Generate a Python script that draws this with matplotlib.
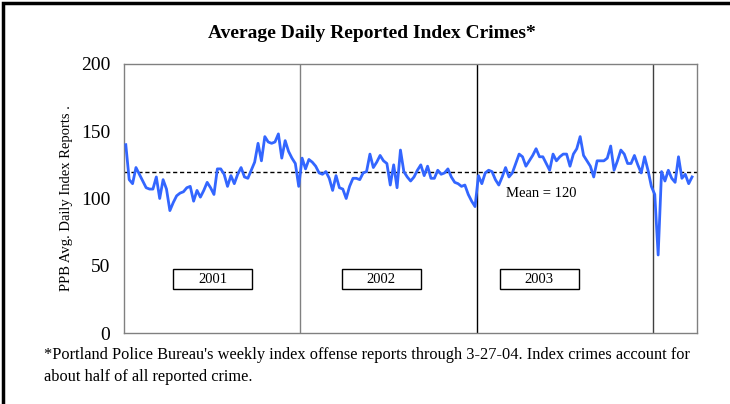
import numpy as np
import matplotlib
matplotlib.use("Agg")
import matplotlib.pyplot as plt
from matplotlib.patches import Rectangle

# weekly average daily index crimes
crimes_2001 = [140, 114, 111, 123, 118, 113, 108, 107, 107, 116, 100, 114, 107,
               91, 97, 102, 104, 105, 108, 109, 98, 106, 101, 106, 112, 108,
               103, 122, 122, 118, 109, 117, 111, 118, 123, 116, 115, 121, 127,
               141, 128, 146, 142, 141, 142, 148, 130, 143, 135, 130, 126, 109]
crimes_2002 = [130, 122, 129, 127, 124, 119, 118, 120, 115, 106, 117, 108, 107,
               100, 109, 115, 115, 114, 119, 120, 133, 123, 127, 132, 128, 126,
               110, 125, 108, 136, 120, 116, 113, 116, 121, 125, 117, 124, 115,
               115, 121, 118, 119, 122, 116, 112, 111, 109, 110, 103, 98, 94]
crimes_2003 = [117, 111, 119, 121, 120, 114, 110, 116, 123, 116, 119, 126, 133,
               131, 124, 128, 132, 137, 131, 131, 126, 121, 133, 128, 131, 133,
               133, 124, 133, 137, 146, 132, 128, 124, 116, 128, 128, 128, 130,
               139, 121, 128, 136, 133, 126, 126, 132, 125, 119, 131, 121, 109]
crimes_2004 = [103, 58, 120, 113, 121, 115, 112, 131, 115, 118, 111, 116]

year_labels = ["2001", "2002", "2003"]
year_breaks = [51.5, 103.5, 155.5]
mean_value = 120
y_ticks = [0, 50, 100, 150, 200]

values = crimes_2001 + crimes_2002 + crimes_2003 + crimes_2004
weeks = np.arange(len(values))

plt.rcParams['font.family'] = ['Liberation Serif', 'DejaVu Serif']

fig = plt.figure(figsize=(7.3, 4.04), dpi=100)
ax = fig.add_axes([0.170, 0.1757, 0.785, 0.666])

# outer frame (only top and left edges fall inside the picture)
fig.patches.append(Rectangle((0.004, -0.5), 2.0, 1.493,
                             transform=fig.transFigure, fill=False,
                             edgecolor='black', linewidth=2.5))

ax.plot(weeks, values, color='#3366ff', linewidth=2, zorder=3)
ax.axhline(mean_value, color='black', linestyle=(0, (3, 2)), linewidth=1, zorder=2)

break_colors = ['#808080', '#000000', '#404040']
for xb, c in zip(year_breaks, break_colors):
    ax.axvline(xb, color=c, linewidth=1, zorder=1)

# year label boxes
box_centers = [25.6, 75.3, 121.9]
box_w, box_h = 23.3, 15
for xc, lab in zip(box_centers, year_labels):
    ax.add_patch(Rectangle((xc - box_w / 2, 40 - box_h / 2), box_w, box_h,
                           facecolor='white', edgecolor='black',
                           linewidth=1, zorder=4))
    ax.text(xc, 40, lab, ha='center', va='center', fontsize=10.5, zorder=5)

ax.text(112, 104, "Mean = 120", fontsize=10.5, ha='left', va='center')

ax.set_xlim(-0.5, 168.5)
ax.set_ylim(0, 200)
ax.set_xticks([])
ax.set_yticks(y_ticks)
ax.tick_params(axis='y', length=0, labelsize=14, pad=10)
for s in ax.spines.values():
    s.set_color('#808080')
    s.set_linewidth(1)

ax.set_ylabel("PPB Avg. Daily Index Reports .", fontsize=10.5, labelpad=6)

fig.text(0.51, 0.916, "Average Daily Reported Index Crimes*", ha='center',
         va='center', fontsize=14, fontweight='bold')
fig.text(0.06, 0.121, "*Portland Police Bureau's weekly index offense reports "
         "through 3-27-04. Index crimes account for", fontsize=11.8,
         ha='left', va='center')
fig.text(0.06, 0.067, "about half of all reported crime.", fontsize=11.8,
         ha='left', va='center')

fig.savefig("out.png", dpi=100)
